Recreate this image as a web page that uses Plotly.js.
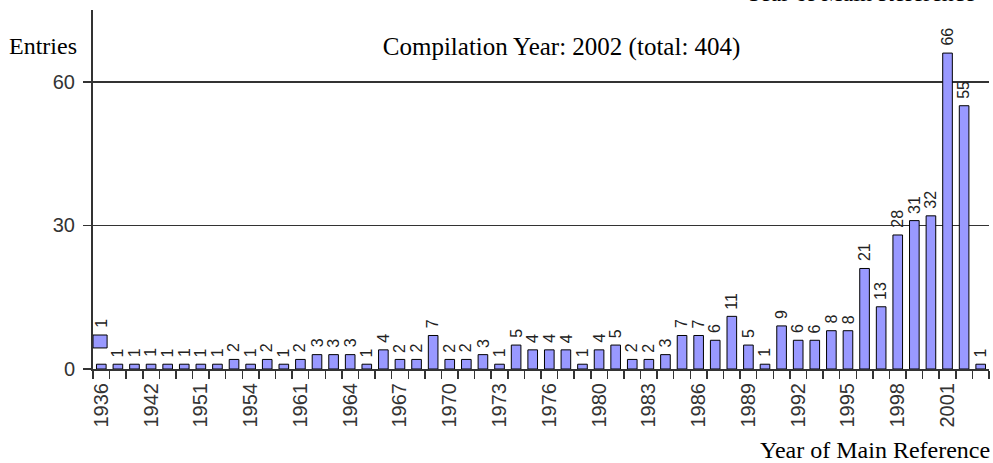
<!DOCTYPE html>
<html>
<head>
<meta charset="utf-8">
<script src="https://cdn.plot.ly/plotly-3.0.1.min.js"></script>
<style>html,body{margin:0;padding:0;background:#fff;}#chart{width:993px;height:463px;}</style>
</head>
<body>
<div id="chart"></div>
<script>
// Categories: year of main reference (only every third one is labelled on the axis)
const years = [
  '1936','1938','1940','1942','1946','1949','1951','1952','1953','1954','1956','1958',
  '1961','1962','1963','1964','1965','1966','1967','1968','1969','1970','1971','1972',
  '1973','1974','1975','1976','1977','1979','1980','1981','1982','1983','1984','1985',
  '1986','1987','1988','1989','1990','1991','1992','1993','1994','1995','1996','1997',
  '1998','1999','2000','2001','2002','2003'
];
// Number of entries per year
const entries = [
  1,1,1,1,1,1,1,1,2,1,2,1,
  2,3,3,3,1,4,2,2,7,2,2,3,
  1,5,4,4,4,1,4,5,2,2,3,7,
  7,6,11,5,1,9,6,6,8,8,21,13,
  28,31,32,66,55,1
];
// Tick labels shown on the x axis
const shownYears = ['1936','1942','1951','1954','1961','1964','1967','1970','1973','1976',
  '1980','1983','1986','1989','1992','1995','1998','2001'];
const yTicks = [0, 30, 60];
const titleText = 'Compilation Year: 2002 (total: 404)';
const yTitle = 'Entries';
const xTitle = 'Year of Main Reference';

const barColor = '#9999ff';
const sans = 'Liberation Sans, Arial, sans-serif';
const serif = 'Liberation Serif, Times New Roman, serif';
const legendBoxTop = 7.1, legendBoxBottom = 4.4;

const trace = {
  type: 'bar',
  x: years,
  y: entries,
  marker: {color: barColor, line: {color: '#000', width: 1}},
  hoverinfo: 'x+y',
  showlegend: false
};

// value labels above the bars (category index positions on the x axis)
const labelAnns = entries.map((v, i) => ({
  x: i,
  y: i === 0 ? legendBoxTop : v,
  xref: 'x', yref: 'y',
  text: String(v),
  textangle: -90,
  showarrow: false,
  xanchor: 'center', yanchor: 'bottom',
  yshift: 5,
  font: {family: sans, size: 16, color: '#222'}
}));

const layout = {
  width: 993, height: 463,
  margin: {l: 93, r: 4, t: 10, b: 94, pad: 0},
  paper_bgcolor: '#fff', plot_bgcolor: '#fff',
  bargap: 0.42,
  title: {
    text: titleText,
    font: {family: serif, size: 25, color: '#000'},
    x: 0.523, xref: 'paper', xanchor: 'center',
    y: 0.9, yref: 'container', yanchor: 'middle'
  },
  xaxis: {
    type: 'category',
    tickmode: 'array',
    tickvals: years,
    ticktext: years.map(y => shownYears.includes(y) ? y : ''),
    tickson: 'boundaries',
    ticks: 'outside', ticklen: 8, tickwidth: 1.5, tickcolor: '#333',
    tickangle: -90,
    tickfont: {family: sans, size: 20, color: '#333'},
    ticklabelstandoff: 4,
    showline: true, linecolor: '#333', linewidth: 2,
    showgrid: false, zeroline: false,
    range: [-0.5, years.length - 0.5],
    fixedrange: true
  },
  yaxis: {
    range: [0, 75],
    tickmode: 'array', tickvals: yTicks,
    ticks: 'outside', ticklen: 8, tickwidth: 1.5, tickcolor: '#333',
    tickfont: {family: sans, size: 20, color: '#333'},
    ticklabelstandoff: 4,
    showline: true, linecolor: '#333', linewidth: 2,
    showgrid: true, gridcolor: '#333', gridwidth: 1.5,
    zeroline: false,
    fixedrange: true
  },
  shapes: [{
    type: 'rect', xref: 'x', yref: 'y',
    x0: -0.5, x1: 0.35, y0: legendBoxBottom, y1: legendBoxTop,
    fillcolor: barColor, line: {color: '#000', width: 1}
  }],
  annotations: labelAnns.concat([
    {text: yTitle, xref: 'paper', yref: 'paper', x: -0.096, y: 0.9,
     xanchor: 'left', yanchor: 'middle', showarrow: false,
     font: {family: serif, size: 24, color: '#000'}},
    {text: xTitle, xref: 'paper', yref: 'paper', x: 1.0035, y: -0.225,
     xanchor: 'right', yanchor: 'middle', showarrow: false,
     font: {family: serif, size: 24, color: '#000'}},
    {text: xTitle, xref: 'paper', yref: 'paper', x: 0.987, y: 1.048,
     xanchor: 'right', yanchor: 'middle', showarrow: false,
     font: {family: serif, size: 24, color: '#000'}}
  ])
};

Plotly.newPlot('chart', [trace], layout, {displayModeBar: false, staticPlot: true});
</script>
</body>
</html>
